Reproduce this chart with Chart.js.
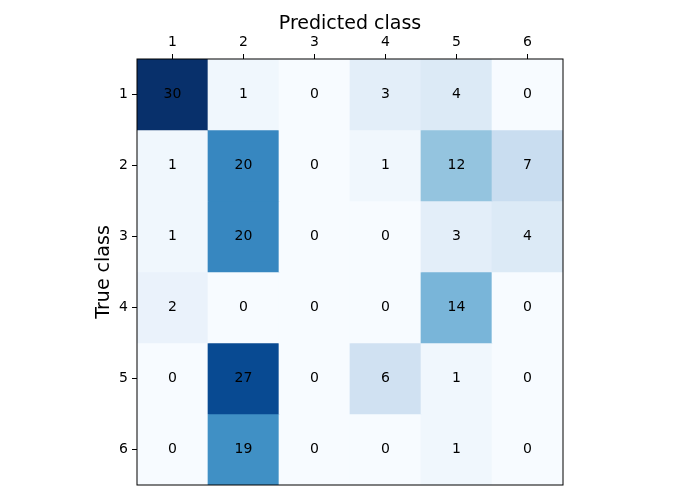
<!DOCTYPE html>
<html>
<head>
<meta charset="utf-8">
<script src="https://cdn.jsdelivr.net/npm/chart.js@4/dist/chart.umd.min.js"></script>
<style>
  html, body { margin: 0; padding: 0; background: #fff; }
  #wrap { width: 700px; height: 500px; }
</style>
</head>
<body>
<div id="wrap"><canvas id="cm"></canvas></div>
<script>
Chart.defaults.font.family = 'DejaVu Sans';
Chart.defaults.color = '#000';

const predictedLabels = ['1', '2', '3', '4', '5', '6'];
const trueClasses = [1, 2, 3, 4, 5, 6];

// rows = true class, columns = predicted class
const row1 = [30, 1, 0, 3, 4, 0];
const row2 = [1, 20, 0, 1, 12, 7];
const row3 = [1, 20, 0, 0, 3, 4];
const row4 = [2, 0, 0, 0, 14, 0];
const row5 = [0, 27, 0, 6, 1, 0];
const row6 = [0, 19, 0, 0, 1, 0];
const matrix = [row1, row2, row3, row4, row5, row6];

const vmax = 30;

// matplotlib "Blues"
const blues = [
  [247, 251, 255], [222, 235, 247], [198, 219, 239], [158, 202, 225],
  [107, 174, 214], [66, 146, 198], [33, 113, 181], [8, 81, 156], [8, 48, 107]
];
function bluesColor(t) {
  t = Math.max(0, Math.min(1, t));
  const pos = t * (blues.length - 1);
  const i = Math.min(Math.floor(pos), blues.length - 2);
  const f = pos - i;
  const c = blues[i].map((v, k) => Math.round(v + (blues[i + 1][k] - v) * f));
  return 'rgb(' + c.join(',') + ')';
}

const datasets = matrix.map((row, r) => ({
  label: 'True ' + trueClasses[r],
  data: row.map(() => [trueClasses[r] - 0.5, trueClasses[r] + 0.5]),
  backgroundColor: row.map(v => bluesColor(v / vmax)),
  borderWidth: 0,
  barPercentage: 1,
  categoryPercentage: 1,
  grouped: false,
}));

const cellText = {
  id: 'cellText',
  afterDatasetsDraw(chart) {
    const c = chart.ctx;
    const xs = chart.scales.x, ys = chart.scales.y;
    c.save();
    c.font = '14px DejaVu Sans';
    c.fillStyle = '#000';
    c.textAlign = 'center';
    c.textBaseline = 'middle';
    matrix.forEach((row, r) => {
      row.forEach((v, j) => {
        c.fillText(String(v), xs.getPixelForValue(j), ys.getPixelForValue(trueClasses[r]));
      });
    });
    const a = chart.chartArea;
    c.strokeStyle = '#000';
    c.lineWidth = 1;
    c.strokeRect(a.left, a.top, a.right - a.left, a.bottom - a.top);
    c.restore();
  }
};

const config = {
  type: 'bar',
  data: { labels: predictedLabels, datasets: datasets },
  options: {
    responsive: true,
    maintainAspectRatio: false,
    animation: false,
    layout: { padding: { left: 93, right: 137, top: 13, bottom: 15 } },
    plugins: { legend: { display: false }, tooltip: { enabled: false } },
    scales: {
      x: {
        position: 'top',
        offset: true,
        grid: { offset: false, drawOnChartArea: false, color: '#000', tickLength: 5 },
        border: { display: false },
        ticks: { font: { size: 14 }, padding: 3, maxRotation: 0 },
        title: { display: true, text: 'Predicted class', font: { size: 19 }, padding: { top: 0, bottom: 0 } },
        afterFit: s => { s.height = 46; }
      },
      y: {
        reverse: true,
        min: 0.5,
        max: 6.5,
        grid: { drawOnChartArea: false, color: '#000', tickLength: 5 },
        border: { display: false },
        afterBuildTicks: s => { s.ticks = trueClasses.map(v => ({ value: v })); },
        ticks: { font: { size: 14 }, padding: 4 },
        title: { display: true, text: 'True class', font: { size: 19 }, padding: { top: 0, bottom: 0 } },
        afterFit: s => { s.width = 44; }
      }
    }
  },
  plugins: [cellText]
};

const chart = new Chart(document.getElementById('cm'), config);
</script>
</body>
</html>
